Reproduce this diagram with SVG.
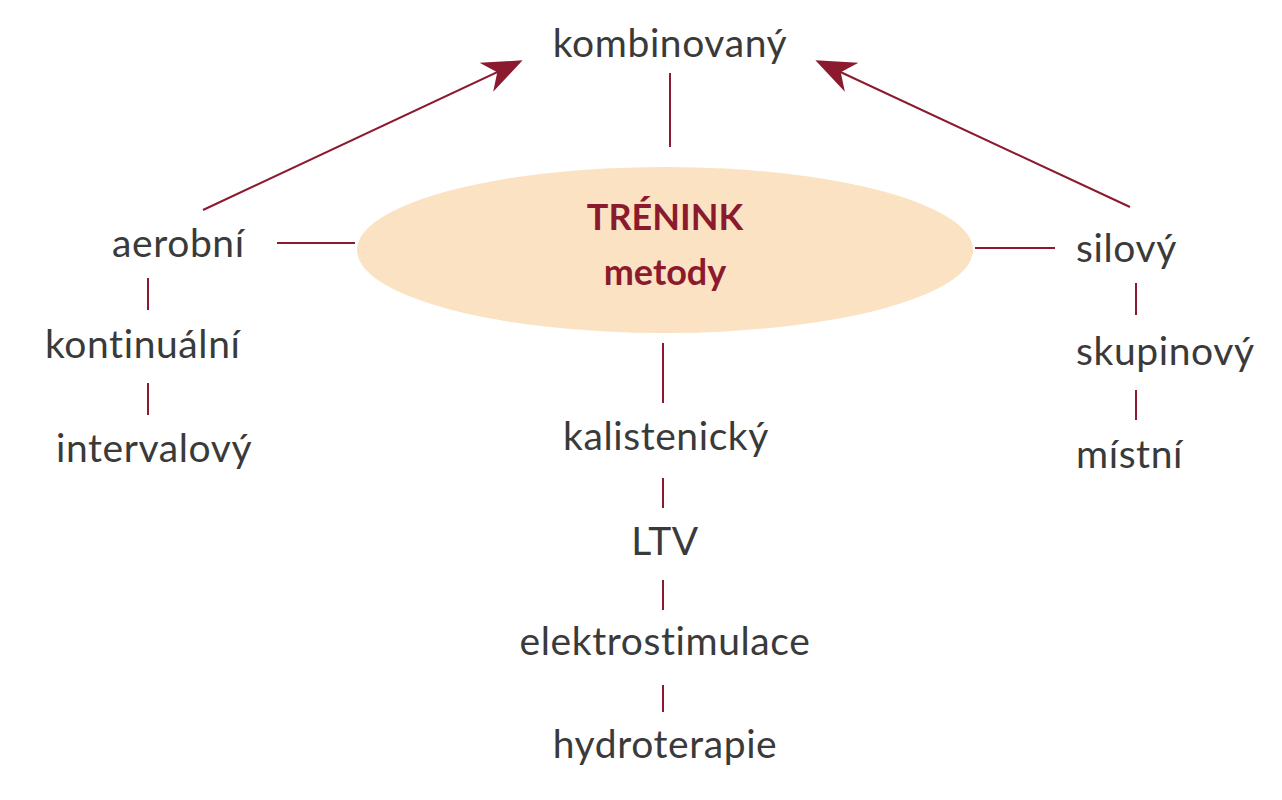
<svg xmlns="http://www.w3.org/2000/svg" width="1282" height="800" viewBox="0 0 1282 800">
<style>
.t{font-family:Lato,"Open Sans",sans-serif;font-size:39px;fill:#3a3a3a;letter-spacing:0.6px}
.m{text-anchor:middle}
.c{font-family:Lato,"Open Sans",sans-serif;font-size:36px;font-weight:bold;fill:#8b1a2e;text-anchor:middle}
.l{stroke:#8b1a2e;stroke-width:2;fill:none}
</style>
<defs>
<marker id="b" viewBox="0 0 10 10" refX="9" refY="5" markerWidth="40" markerHeight="40" markerUnits="userSpaceOnUse" orient="auto"><path d="M0,1 L10,5 L0,9 L3,5 z" fill="#8b1a2e"/></marker></defs>
<rect width="1282" height="800" fill="#fff"/>
<g id="connectors">
<line class="l" x1="670" y1="73" x2="670" y2="147"/>
<line class="l" x1="277" y1="243" x2="355" y2="243"/>
<line class="l" x1="975" y1="248" x2="1055" y2="248"/>
<line class="l" x1="148" y1="278" x2="148" y2="310"/>
<line class="l" x1="148" y1="383" x2="148" y2="415"/>
<line class="l" x1="1136" y1="283" x2="1136" y2="315"/>
<line class="l" x1="1136" y1="390" x2="1136" y2="420"/>
<line class="l" x1="663" y1="343" x2="663" y2="403"/>
<line class="l" x1="663" y1="478" x2="663" y2="508"/>
<line class="l" x1="663" y1="580" x2="663" y2="610"/>
<line class="l" x1="663" y1="685" x2="663" y2="712"/>
<line class="l" x1="203" y1="210" x2="519" y2="62" marker-end="url(#b)"/>
<line class="l" x1="1130" y1="207" x2="819" y2="62" marker-end="url(#b)"/>
</g>
<g id="center"><ellipse cx="665" cy="250" rx="308" ry="83" fill="#fbe2c2"/>
<text class="c" x="665" y="230">TRÉNINK</text><text class="c" x="665" y="285">metody</text></g>
<g id="kombinovany"><text class="t m" x="670" y="57">kombinovaný</text></g>
<g id="aerobni"><text class="t" x="112" y="257">aerobní</text></g>
<g id="kontinualni"><text class="t" x="45" y="358">kontinuální</text></g>
<g id="intervalovy"><text class="t" x="56" y="462">intervalový</text></g>
<g id="silovy"><text class="t" x="1076" y="262">silový</text></g>
<g id="skupinovy"><text class="t" x="1076" y="365">skupinový</text></g>
<g id="mistni"><text class="t" x="1076" y="468">místní</text></g>
<g id="kalistenicky"><text class="t m" x="666" y="450">kalistenický</text></g>
<g id="ltv"><text class="t m" x="665" y="555">LTV</text></g>
<g id="elektro"><text class="t m" x="665" y="655">elektrostimulace</text></g>
<g id="hydro"><text class="t m" x="665" y="758">hydroterapie</text></g>
</svg>
